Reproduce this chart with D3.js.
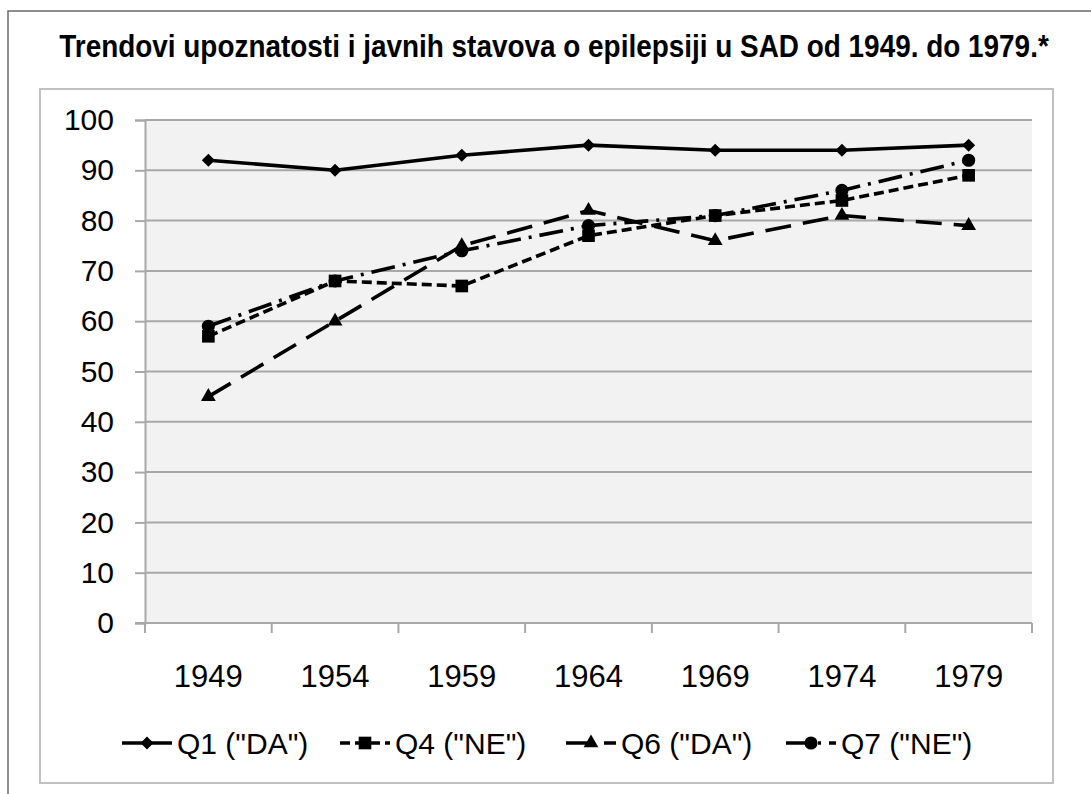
<!DOCTYPE html>
<html>
<head>
<meta charset="utf-8">
<script src="https://cdn.jsdelivr.net/npm/d3@7/dist/d3.min.js"></script>
<style>
  html, body { margin: 0; padding: 0; background: #fff; }
  svg { display: block; }
</style>
</head>
<body>
<svg id="chart" width="1091" height="794"></svg>
<script>
const title = "Trendovi upoznatosti i javnih stavova o epilepsiji u SAD od 1949. do 1979.*";
const years = ["1949", "1954", "1959", "1964", "1969", "1974", "1979"];
const yTicks = [0, 10, 20, 30, 40, 50, 60, 70, 80, 90, 100];
const seriesNames = ['Q1 ("DA")', 'Q4 ("NE")', 'Q6 ("DA")', 'Q7 ("NE")'];
const q1 = [92, 90, 93, 95, 94, 94, 95];
const q4 = [57, 68, 67, 77, 81, 84, 89];
const q6 = [45, 60, 75, 82, 76, 81, 79];
const q7 = [59, 68, 74, 79, 81, 86, 92];

const svg = d3.select("#chart");
const font = "'Liberation Sans', Arial, sans-serif";

// outer frame (cut off at right/bottom)
svg.append("path").attr("d", "M8,800 L8,11 L1100,11")
  .attr("fill", "none").attr("stroke", "#6b6b6b").attr("stroke-width", 1.5);
// inner chart box
svg.append("rect").attr("x", 40).attr("y", 89).attr("width", 1013).attr("height", 694)
  .attr("fill", "#fff").attr("stroke", "#c0c0c0").attr("stroke-width", 2);

// title (condensed bold): scale horizontally to the reference width
const titleG = svg.append("g");
const titleT = titleG.append("text").attr("x", 0).attr("y", 0).attr("text-anchor", "middle")
  .attr("font-family", "'Liberation Sans Narrow', 'Liberation Sans', Arial, sans-serif")
  .attr("font-weight", "bold").attr("font-size", 32)
  .attr("fill", "#000").text(title);
const natural = titleT.node().getComputedTextLength();
const sx = Math.min(1, 990 / natural);
titleG.attr("transform", `translate(554,57) scale(${sx},1)`);

const x = d3.scaleBand().domain(years).range([145, 1032]);
const y = d3.scaleLinear().domain([0, 100]).range([623, 120]);

// plot background
svg.append("rect").attr("x", 145).attr("y", 120).attr("width", 1032 - 145).attr("height", 623 - 120)
  .attr("fill", "#f2f2f2");

// gridlines
svg.append("g").selectAll("line").data(yTicks.filter(d => d > 0)).join("line")
  .attr("x1", 145).attr("x2", 1032)
  .attr("y1", d => y(d)).attr("y2", d => y(d))
  .attr("stroke", "#a8a8a8").attr("stroke-width", 2);

// y axis
const yAxis = svg.append("g").attr("transform", "translate(145,0)")
  .call(d3.axisLeft(y).tickValues(yTicks).tickSize(10).tickPadding(21));
yAxis.select(".domain").attr("stroke", "#a8a8a8").attr("stroke-width", 2);
yAxis.selectAll(".tick line").attr("stroke", "#a8a8a8").attr("stroke-width", 2);
yAxis.selectAll(".tick text").attr("font-family", font).attr("font-size", 30).attr("fill", "#000");

// x axis
const xAxis = svg.append("g").attr("transform", "translate(0,623)")
  .call(d3.axisBottom(x).tickSize(0).tickPadding(42));
xAxis.select(".domain").remove();
xAxis.selectAll(".tick text").attr("font-family", font).attr("font-size", 31).attr("fill", "#000");
svg.append("line").attr("x1", 135).attr("x2", 1032).attr("y1", 623).attr("y2", 623)
  .attr("stroke", "#a8a8a8").attr("stroke-width", 2);
const bounds = years.map(d => x(d)).concat([x(years[years.length - 1]) + x.bandwidth()]);
svg.append("g").selectAll("line").data(bounds).join("line")
  .attr("x1", d => d).attr("x2", d => d).attr("y1", 623).attr("y2", 633)
  .attr("stroke", "#a8a8a8").attr("stroke-width", 2);

const styles = [
  { data: q1, dash: null, sym: "diamond" },
  { data: q4, dash: "10,5", sym: "square" },
  { data: q6, dash: "26,12", sym: "triangle" },
  { data: q7, dash: "24,8,3,8", sym: "circle" }
];

function symPath(kind) {
  if (kind === "diamond") return d3.symbol().type(d3.symbolSquare).size(85)();
  if (kind === "square") return d3.symbol().type(d3.symbolSquare).size(160)();
  if (kind === "triangle") return d3.symbol().type(d3.symbolTriangle).size(95)();
  return d3.symbol().type(d3.symbolCircle).size(135)();
}
function symRot(kind) { return kind === "diamond" ? " rotate(45)" : ""; }

const line = d3.line().x((d, i) => x(years[i]) + x.bandwidth() / 2).y(d => y(d));

styles.forEach(s => {
  svg.append("path").datum(s.data).attr("d", line)
    .attr("fill", "none").attr("stroke", "#000").attr("stroke-width", 3.6)
    .attr("stroke-dasharray", s.dash).attr("stroke-linejoin", "round");
  svg.append("g").selectAll("path").data(s.data).join("path")
    .attr("d", symPath(s.sym))
    .attr("transform", (d, i) => `translate(${x(years[i]) + x.bandwidth() / 2},${y(d)})${symRot(s.sym)}`)
    .attr("fill", "#000");
});

// legend
const legX = [122, 340, 566, 786];
const legY = 743;
styles.forEach((s, i) => {
  const g = svg.append("g").attr("transform", `translate(${legX[i]},${legY})`);
  g.append("line").attr("x1", 0).attr("x2", 50).attr("y1", 0).attr("y2", 0)
    .attr("stroke", "#000").attr("stroke-width", 3.6).attr("stroke-dasharray", s.dash);
  g.append("path").attr("d", symPath(s.sym))
    .attr("transform", `translate(25,0)${symRot(s.sym)}`).attr("fill", "#000");
  g.append("text").attr("x", 55).attr("y", 0).attr("dy", "0.35em")
    .attr("font-family", font).attr("font-size", 30).attr("fill", "#000")
    .text(seriesNames[i]);
});
</script>
</body>
</html>
